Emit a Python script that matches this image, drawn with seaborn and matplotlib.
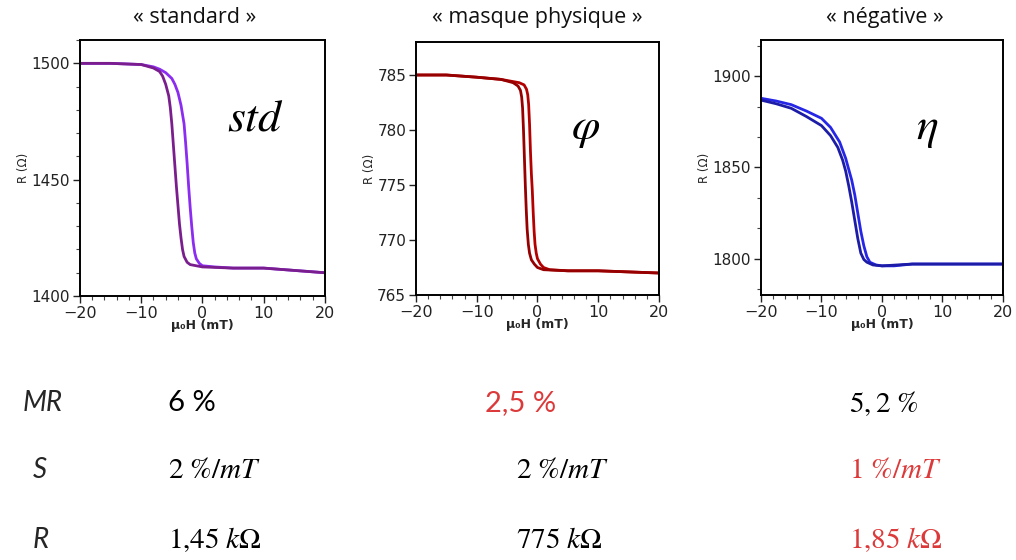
import pandas as pd
import matplotlib.pyplot as plt
import seaborn as sns
from matplotlib.ticker import MultipleLocator

# ---- data ----
# "standard"
std_h_up = [-20, -15, -10, -8, -7, -6, -5, -4.5, -4, -3.5, -3, -2.75, -2.5, -2.25, -2, -1.75, -1.5,
            -1.25, -1, -0.5, 0, 2, 5, 10, 15, 20]
std_r_up = [1500, 1500, 1499.5, 1498.5, 1497.5, 1496, 1493.5, 1491, 1487.5, 1482, 1474, 1466, 1457,
            1447, 1438, 1430, 1423, 1418.5, 1416, 1414, 1413, 1412.5, 1412, 1412, 1411, 1410]
std_h_dn = [-20, -15, -10, -8, -7, -6.5, -6, -5.5, -5.25, -5, -4.75, -4.5, -4.25, -4, -3.75, -3.5,
            -3.25, -3, -2.5, -2, 0, 5, 10, 15, 20]
std_r_dn = [1500, 1500, 1499.5, 1498, 1496.5, 1494.5, 1491, 1486, 1481, 1474, 1465, 1456, 1447,
            1439, 1431, 1425, 1420, 1417, 1414.5, 1413.5, 1412.5, 1412, 1412, 1411, 1410]

# "masque physique"
phi_h_up = [-20, -15, -10, -6, -4, -3, -2.2, -1.8, -1.6, -1.45, -1.3, -1.15, -1, -0.85, -0.7, -0.55,
            -0.4, -0.2, 0, 0.5, 1, 2, 5, 10, 15, 20]
phi_r_up = [785, 785, 784.8, 784.6, 784.4, 784.3, 784.1, 783.7, 783.2, 782.3, 780.5, 778, 776, 774.5,
            772.5, 770.8, 769.6, 768.8, 768.3, 767.8, 767.5, 767.3, 767.2, 767.2, 767.1, 767.0]
phi_h_dn = [-20, -15, -10, -6, -4, -3.2, -2.8, -2.6, -2.45, -2.3, -2.15, -2, -1.85, -1.7, -1.5, -1.3,
            -1, -0.5, 0, 1, 5, 10, 15, 20]
phi_r_dn = [785, 785, 784.8, 784.6, 784.3, 784, 783.6, 783, 782, 780, 777.5, 775, 772.8, 771, 769.6,
            768.8, 768.2, 767.8, 767.5, 767.3, 767.2, 767.2, 767.1, 767.0]

# "négative"
eta_h_up = [-20, -17.5, -15, -12.5, -10, -8.5, -7, -6, -5, -4.5, -4, -3.5, -3, -2.5, -2, -1, 0, 2,
            5, 10, 15, 20]
eta_r_up = [1888, 1886.5, 1884.5, 1881, 1877, 1872, 1864, 1855, 1843, 1835, 1825, 1815, 1807, 1801,
            1798, 1796.5, 1796, 1796, 1797, 1797, 1797, 1797]
eta_h_dn = [-20, -17.5, -15, -12.5, -10, -8.5, -7.3, -6.5, -6, -5.5, -5, -4.5, -4, -3.5, -3, -2.5,
            -1.5, 0, 5, 10, 15, 20]
eta_r_dn = [1887, 1885, 1882.5, 1878, 1873, 1867.5, 1861, 1854, 1848, 1840, 1831, 1821, 1811, 1803,
            1799.5, 1798, 1796.5, 1796, 1797, 1797, 1797, 1797]

titles = ["« standard »", "« masque physique »", "« négative »"]
symbols = ["$std$", r"$\varphi$", r"$\eta$"]

rows = ["MR", "S", "R"]
col_std = ["6 %", r"$2\ \%/mT$", r"$1{,}45\ k\Omega$"]
col_phi = ["2,5 %", r"$2\ \%/mT$", r"$775\ k\Omega$"]
col_eta = [r"$5,2\ \%$", r"$1\ \%/mT$", r"$1{,}85\ k\Omega$"]

sns.set_style("ticks")
plt.rcParams["font.family"] = ["DejaVu Sans"]
plt.rcParams["mathtext.fontset"] = "stix"

fig = plt.figure(figsize=(10.16, 5.6), dpi=100)

panels = [
    dict(up=(std_h_up, std_r_up), dn=(std_h_dn, std_r_dn), colors=("#8b2cf0", "#7a1e8e"),
         rect=[0.0787, 0.4714, 0.2411, 0.457], ylim=(1400, 1510), major=50, minor=10),
    dict(up=(phi_h_up, phi_r_up), dn=(phi_h_dn, phi_r_dn), colors=("#b30000", "#960000"),
         rect=[0.4094, 0.4732, 0.2392, 0.4518], ylim=(765, 788), major=5, minor=None),
    dict(up=(eta_h_up, eta_r_up), dn=(eta_h_dn, eta_r_dn), colors=("#2626e6", "#1c1ca6"),
         rect=[0.749, 0.4732, 0.2382, 0.4554], ylim=(1780, 1920), major=50, minor=50 / 3),
]

for p in panels:
    ax = fig.add_axes(p["rect"])
    df_up = pd.DataFrame({"H": p["up"][0], "R": p["up"][1]})
    df_dn = pd.DataFrame({"H": p["dn"][0], "R": p["dn"][1]})
    sns.lineplot(data=df_up, x="H", y="R", sort=False, color=p["colors"][0], lw=2, ax=ax)
    sns.lineplot(data=df_dn, x="H", y="R", sort=False, color=p["colors"][1], lw=2, ax=ax)
    ax.set_xlim(-20, 20)
    ax.set_ylim(*p["ylim"])
    ax.xaxis.set_major_locator(MultipleLocator(10))
    ax.xaxis.set_minor_locator(MultipleLocator(2))
    ax.yaxis.set_major_locator(MultipleLocator(p["major"]))
    if p["minor"]:
        ax.yaxis.set_minor_locator(MultipleLocator(p["minor"]))
    ax.tick_params(which="major", direction="out", length=5, width=1, labelsize=11,
                   colors="#222222", pad=2)
    ax.tick_params(which="minor", direction="out", length=3, width=0.8, colors="#444444")
    ax.tick_params(axis="x", labelsize=11.5)
    for s in ax.spines.values():
        s.set_linewidth(1.4)
        s.set_color("black")
    ax.set_xlabel("μ₀H (mT)", fontsize=9, fontweight="bold", labelpad=-1)
    ax.set_ylabel("R (Ω)", fontsize=8.5, labelpad=1)

# titles above the panels
for x, t in zip([0.192, 0.529, 0.871], titles):
    fig.text(x, 0.968, t, ha="center", va="center", fontsize=15.5, family="Open Sans", color="#111111")

# symbols inside the panels
for (x, y), s in zip([(0.251, 0.789), (0.576, 0.773), (0.913, 0.773)], symbols):
    fig.text(x, y, s, ha="center", va="center", fontsize=33, color="black")

# table of values below
red = "#dc3a3a"
row_y = [0.280, 0.161, 0.036]
row_x = [0.022, 0.032, 0.032]
for ry, rx, name in zip(row_y, row_x, rows):
    fig.text(rx, ry, name, ha="left", va="center", fontsize=20, family="Lato", style="italic")

for i, ry in enumerate(row_y):
    fig.text(0.165, ry, col_std[i], ha="left", va="center", fontsize=21,
             family="Lato" if i == 0 else "DejaVu Sans", color="black")
    phi_x = 0.477 if i == 0 else 0.508
    fig.text(phi_x, ry, col_phi[i], ha="left", va="center", fontsize=21,
             family="Lato" if i == 0 else "DejaVu Sans", color=red if i == 0 else "black")
    fig.text(0.836, ry, col_eta[i], ha="left", va="center", fontsize=21,
             color="black" if i == 0 else red)

plt.savefig("out.png", dpi=100)
